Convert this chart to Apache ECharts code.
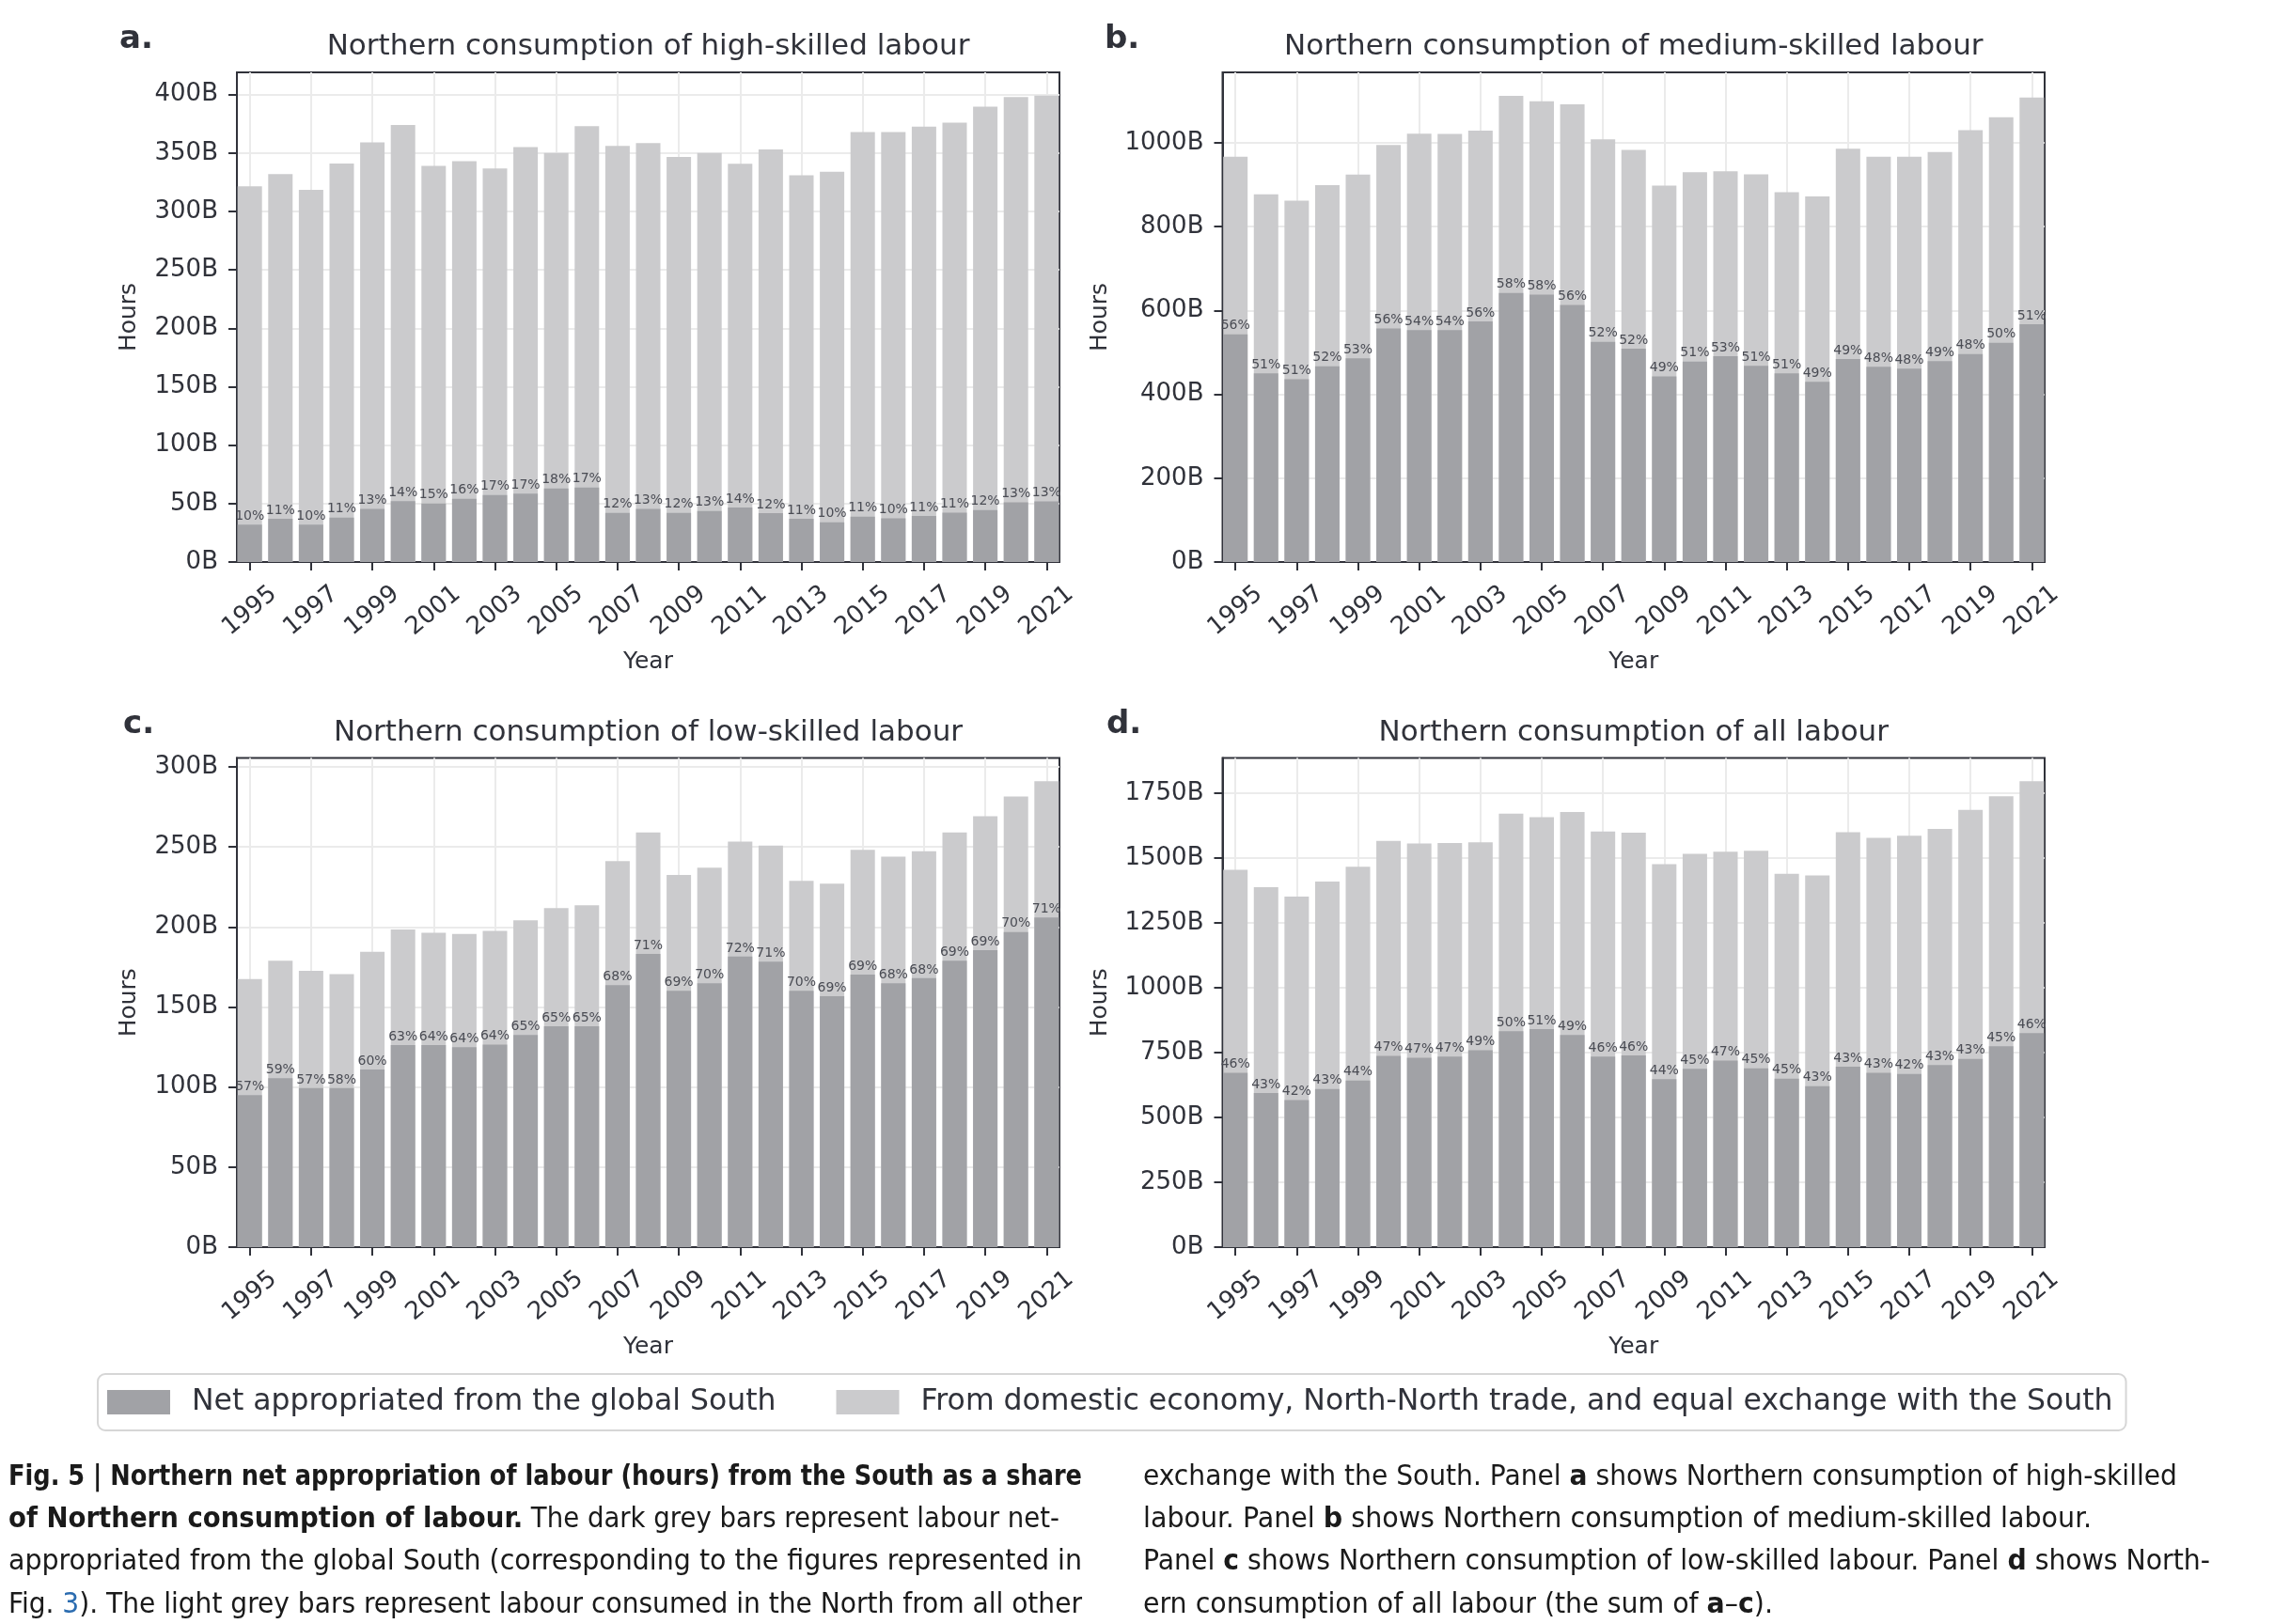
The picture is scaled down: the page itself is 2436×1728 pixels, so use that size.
<!DOCTYPE html>
<html>
<head>
<meta charset="utf-8">
<script src="https://cdn.jsdelivr.net/npm/echarts@6.0.0/dist/echarts.min.js"></script>
<style>
  html, body { margin: 0; padding: 0; background: #ffffff; }
  #chart { position: absolute; left: 0; top: 0; width: 2436px; height: 1728px; }
  .cap { position: absolute; font-family: "Liberation Sans Narrow", "DejaVu Sans Condensed", "Liberation Sans", sans-serif;
         font-size: 30px; line-height: 30px; color: #1a1a1a; white-space: nowrap; transform-origin: left center; }
  .cap b { font-weight: bold; }
  .link { color: #2b6cb0; }
</style>
</head>
<body>
<div id="chart"></div>
<div class="cap" style="left:9px;top:1555px" data-w="1142"><b>Fig. 5 | Northern net appropriation of labour (hours) from the South as a share</b></div>
<div class="cap" style="left:9px;top:1600px" data-w="1118"><b>of Northern consumption of labour.</b> The dark grey bars represent labour net-</div>
<div class="cap" style="left:9px;top:1645px" data-w="1142">appropriated from the global South (corresponding to the figures represented in</div>
<div class="cap" style="left:9px;top:1691px" data-w="1142">Fig. <span class="link">3</span>). The light grey bars represent labour consumed in the North from all other</div>
<div class="cap" style="left:1216px;top:1555px" data-w="1100">exchange with the South. Panel <b>a</b> shows Northern consumption of high-skilled</div>
<div class="cap" style="left:1216px;top:1600px" data-w="1009">labour. Panel <b>b</b> shows Northern consumption of medium-skilled labour.</div>
<div class="cap" style="left:1216px;top:1645px" data-w="1135">Panel <b>c</b> shows Northern consumption of low-skilled labour. Panel <b>d</b> shows North-</div>
<div class="cap" style="left:1216px;top:1691px" data-w="670">ern consumption of all labour (the sum of <b>a</b>–<b>c</b>).</div>
<script>
// ---------------- data ----------------
const years = ['1995','1996','1997','1998','1999','2000','2001','2002','2003','2004','2005','2006','2007','2008','2009','2010','2011','2012','2013','2014','2015','2016','2017','2018','2019','2020','2021'];
const xTickIndex = [0,2,4,6,8,10,12,14,16,18,20,22,24,26];

const highTotal = [321.5,332,318.5,341,359,374,339,343,336.7,355,350,373,356,358.5,346.7,350,340.7,353,331,334,368,368,372.6,376,389.6,397.8,399];
const highNet   = [32,37,32,38,45.5,52,50,54,57.4,58.5,63,63.7,42,45.5,42,43.7,46.7,41.9,37,34,38.9,37.4,39.5,42.2,44.5,51,51.9];
const highPct   = [10,11,10,11,13,14,15,16,17,17,18,17,12,13,12,13,14,12,11,10,11,10,11,11,12,13,13];

const medTotal = [967,877,862,899,924,995,1022,1021,1029,1112,1099,1092,1008,983,898,930,932,925,882,872,986,967,967,978,1030,1061,1108];
const medNet   = [543,450,436,467,486,557,553,553,574,642,638,613,525,509,443,478,491,468,450,430,484,466,461,479,496,523,567];
const medPct   = [56,51,51,52,53,56,54,54,56,58,58,56,52,52,49,51,53,51,51,49,49,48,48,49,48,50,51];

const lowTotal = [167.5,178.9,172.6,170.5,184.5,198.5,196.4,195.6,197.5,204.2,211.8,213.6,241.2,259,232.5,237.1,253.3,250.9,228.8,227.1,248.2,243.9,247.4,259,269.2,281.6,291];
const lowNet   = [95,105.5,99.3,99.3,110.9,126.2,126.2,124.9,126.5,132.5,138,138,163.7,183.2,160.2,164.8,181.5,178.3,160.2,156.7,170.2,164.8,168,178.9,185.6,196.9,206];
const lowPct   = [57,59,57,58,60,63,64,64,64,65,65,65,68,71,69,70,72,71,70,69,69,68,68,69,69,70,71];

const allTotal = [1454,1387,1351,1409,1466,1565,1555,1557,1560,1670,1657,1677,1602,1597,1476,1516,1524,1527,1439,1432,1599,1577,1585,1612,1685,1737,1795];
const allNet   = [672,594,567,609,642,737,730,734,759,832,840,818,734,739,647,687,719,689,649,620,695,672,667,702,725,774,825];
const allPct   = [46,43,42,43,44,47,47,47,49,50,51,49,46,46,44,45,47,45,45,43,43,43,42,43,43,45,46];

const yTicksA = [0,50,100,150,200,250,300,350,400];
const yTicksB = [0,200,400,600,800,1000];
const yTicksC = [0,50,100,150,200,250,300];
const yTicksD = [0,250,500,750,1000,1250,1500,1750];

const titles = ['Northern consumption of high-skilled labour','Northern consumption of medium-skilled labour','Northern consumption of low-skilled labour','Northern consumption of all labour'];
const letters = ['a.','b.','c.','d.'];
const nameNet = 'Net appropriated from the global South';
const nameRest = 'From domestic economy, North-North trade, and equal exchange with the South';

// ---------------- layout / style ----------------
const TXT = '#30323a';
const DARK = '#a1a2a6';
const LIGHT = '#cbcbcd';
const GRIDC = '#ebebeb';
const FONT = 'DejaVu Sans';

const panels = [
  {total: highTotal, net: highNet, pct: highPct, ticks: yTicksA, max: 419,   grid: {left: 252,   top: 77,    width: 875,   height: 521},   nameGap: 102},
  {total: medTotal,  net: medNet,  pct: medPct,  ticks: yTicksB, max: 1168,  grid: {left: 1300.5,top: 77,    width: 874.5, height: 521},   nameGap: 118},
  {total: lowTotal,  net: lowNet,  pct: lowPct,  ticks: yTicksC, max: 305.6, grid: {left: 252,   top: 806.5, width: 875,   height: 520.5}, nameGap: 102},
  {total: allTotal,  net: allNet,  pct: allPct,  ticks: yTicksD, max: 1885,  grid: {left: 1300.5,top: 806.5, width: 874.5, height: 520.5}, nameGap: 118}
];

const grid = [], xAxis = [], yAxis = [], series = [], graphic = [];
panels.forEach((p, k) => {
  grid.push(Object.assign({show: true, borderColor: TXT, borderWidth: 2, backgroundColor: 'transparent'}, p.grid));
  xAxis.push({
    type: 'value', gridIndex: k, min: -0.42, max: 26.42,
    name: 'Year', nameLocation: 'middle', nameGap: 94,
    nameTextStyle: {fontFamily: FONT, fontSize: 25, color: TXT},
    axisLine: {show: true, onZero: false, lineStyle: {color: TXT, width: 2}},
    axisTick: {show: true, length: 9, lineStyle: {color: TXT, width: 2}, customValues: xTickIndex},
    axisLabel: {customValues: xTickIndex, formatter: v => years[Math.round(v)], rotate: 40, align: 'center', verticalAlign: 'middle',
                margin: 52, fontFamily: FONT, fontSize: 26, color: TXT},
    splitLine: {show: true, lineStyle: {color: GRIDC, width: 2}}
  });
  yAxis.push({
    type: 'value', gridIndex: k, min: 0, max: p.max,
    name: 'Hours', nameLocation: 'middle', nameGap: p.nameGap, nameRotate: 90,
    nameTextStyle: {fontFamily: FONT, fontSize: 25, color: TXT},
    axisLine: {show: true, onZero: false, lineStyle: {color: TXT, width: 2}},
    axisTick: {show: true, length: 9, lineStyle: {color: TXT, width: 2}, customValues: p.ticks},
    axisLabel: {customValues: p.ticks, formatter: v => v + 'B', margin: 20, fontFamily: FONT, fontSize: 26, color: TXT},
    splitLine: {show: true, lineStyle: {color: GRIDC, width: 2}}
  });
  series.push({
    type: 'bar', name: nameRest, xAxisIndex: k, yAxisIndex: k, barWidth: 26, barGap: '-100%',
    itemStyle: {color: LIGHT}, emphasis: {disabled: true}, animation: false,
    data: p.total.map((v, i) => [i, v])
  });
  series.push({
    type: 'bar', name: nameNet, xAxisIndex: k, yAxisIndex: k, barWidth: 26, barGap: '-100%',
    itemStyle: {color: DARK}, emphasis: {disabled: true}, animation: false,
    label: {show: true, position: 'top', distance: 2, fontFamily: FONT, fontSize: 14, color: '#4a4c54',
            formatter: (prm) => p.pct[prm.dataIndex] + '%'},
    data: p.net.map((v, i) => [i, v])
  });
  const cx = p.grid.left + p.grid.width / 2;
  const ty = k < 2 ? 50 : 780;
  graphic.push({type: 'text', x: cx, y: ty, style: {text: titles[k], font: '31px "DejaVu Sans"', fill: TXT, textAlign: 'center', textVerticalAlign: 'middle'}});
  const lx = [127, 1175, 131, 1177][k];
  const ly = k < 2 ? 42 : 771;
  graphic.push({type: 'text', x: lx, y: ly, style: {text: letters[k], font: 'bold 34px "DejaVu Sans"', fill: TXT, textAlign: 'left', textVerticalAlign: 'middle'}});
});

const chart = echarts.init(document.getElementById('chart'), null, {renderer: 'canvas'});
chart.setOption({
  backgroundColor: '#ffffff',
  animation: false,
  grid, xAxis, yAxis, series, graphic,
  legend: {
    data: [nameNet, nameRest], left: 104, top: 1462, orient: 'horizontal',
    borderColor: '#d6d6d6', borderWidth: 2, borderRadius: 8, padding: [14, 14, 14, 10],
    itemWidth: 67, itemHeight: 26, itemGap: 64, icon: 'rect', selectedMode: false,
    textStyle: {fontFamily: FONT, fontSize: 31.5, color: TXT, padding: [0, 0, 0, 18]}
  }
});

// caption line fitting to the column widths
document.querySelectorAll('.cap').forEach(el => {
  const target = parseFloat(el.dataset.w);
  const w = el.getBoundingClientRect().width;
  el.style.transform = 'scaleX(' + (target / w) + ')';
});
</script>
</body>
</html>
